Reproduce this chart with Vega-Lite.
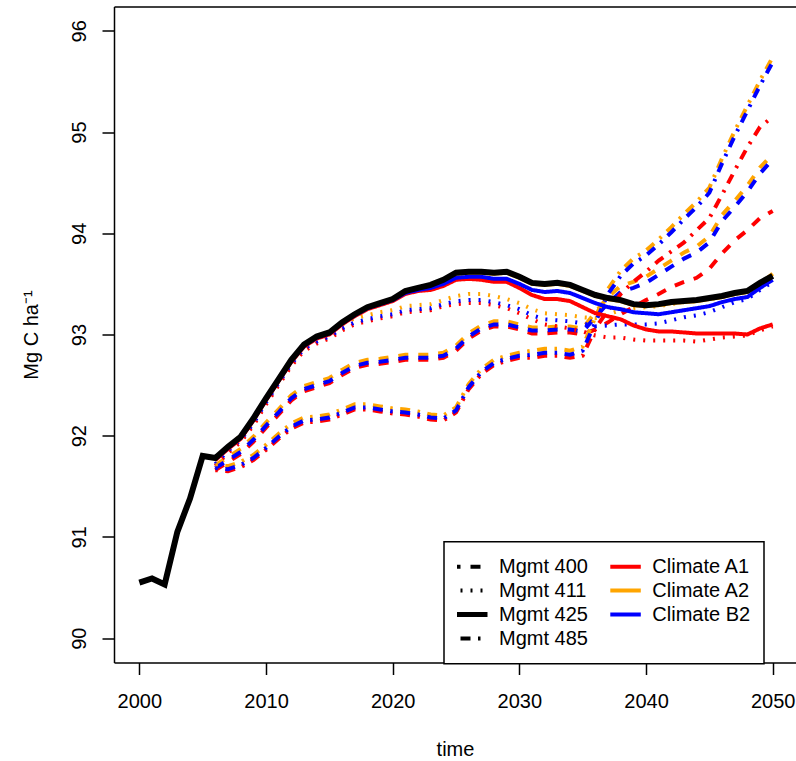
{
  "$schema": "https://vega.github.io/schema/vega-lite/v6.json",
  "width": 682,
  "height": 656,
  "autosize": {"type": "none"},
  "padding": {"left": 114, "top": 6.5, "right": 0, "bottom": 98.5},
  "background": "white",
  "config": {
    "view": {"stroke": null},
    "font": "Liberation Sans",
    "axis": {
      "grid": false,
      "labelFont": "Liberation Sans",
      "titleFont": "Liberation Sans",
      "labelFontSize": 20,
      "titleFontSize": 20,
      "labelColor": "black",
      "titleColor": "black",
      "titleFontWeight": "normal",
      "tickColor": "black",
      "domainColor": "black",
      "tickSize": 12,
      "tickWidth": 1.5,
      "domainWidth": 1.5
    },
    "legend": {"strokeWidth": 1.5}
  },
  "datasets": {
    "base": [
      {"t":2000,"v":90.55},{"t":2001,"v":90.59},{"t":2002,"v":90.53},{"t":2003,"v":91.05},{"t":2004,"v":91.38},
      {"t":2005,"v":91.80},{"t":2006,"v":91.78},{"t":2007,"v":91.89},{"t":2008,"v":91.99},{"t":2009,"v":92.17},
      {"t":2010,"v":92.37},{"t":2011,"v":92.56},{"t":2012,"v":92.75},{"t":2013,"v":92.90},{"t":2014,"v":92.98},
      {"t":2015,"v":93.02},{"t":2016,"v":93.12},{"t":2017,"v":93.20},{"t":2018,"v":93.27},{"t":2019,"v":93.31},
      {"t":2020,"v":93.35},{"t":2021,"v":93.43},{"t":2022,"v":93.46},{"t":2023,"v":93.49},{"t":2024,"v":93.54},
      {"t":2025,"v":93.61},{"t":2026,"v":93.62},{"t":2027,"v":93.62},{"t":2028,"v":93.61},{"t":2029,"v":93.62},
      {"t":2030,"v":93.57},{"t":2031,"v":93.51},{"t":2032,"v":93.50},{"t":2033,"v":93.51},{"t":2034,"v":93.49},
      {"t":2035,"v":93.44},{"t":2036,"v":93.39},{"t":2037,"v":93.36},{"t":2038,"v":93.34},{"t":2039,"v":93.30},
      {"t":2040,"v":93.29},{"t":2041,"v":93.30},{"t":2042,"v":93.32},{"t":2043,"v":93.33},{"t":2044,"v":93.34},
      {"t":2045,"v":93.36},{"t":2046,"v":93.38},{"t":2047,"v":93.41},{"t":2048,"v":93.43},{"t":2049,"v":93.51},
      {"t":2050,"v":93.58}
    ],
    "m400": [
      {"t":2006,"A1":91.66,"A2":91.71,"B2":91.68},{"t":2007,"A1":91.74,"A2":91.79,"B2":91.76},
      {"t":2008,"A1":91.82,"A2":91.87,"B2":91.84},{"t":2009,"A1":91.94,"A2":91.99,"B2":91.96},
      {"t":2010,"A1":92.08,"A2":92.13,"B2":92.10},{"t":2011,"A1":92.21,"A2":92.26,"B2":92.23},
      {"t":2012,"A1":92.35,"A2":92.40,"B2":92.37},{"t":2013,"A1":92.44,"A2":92.49,"B2":92.46},
      {"t":2014,"A1":92.48,"A2":92.53,"B2":92.50},{"t":2015,"A1":92.52,"A2":92.57,"B2":92.54},
      {"t":2016,"A1":92.60,"A2":92.65,"B2":92.62},{"t":2017,"A1":92.67,"A2":92.72,"B2":92.69},
      {"t":2018,"A1":92.70,"A2":92.75,"B2":92.72},{"t":2019,"A1":92.71,"A2":92.76,"B2":92.73},
      {"t":2020,"A1":92.73,"A2":92.78,"B2":92.75},{"t":2021,"A1":92.75,"A2":92.80,"B2":92.77},
      {"t":2022,"A1":92.75,"A2":92.80,"B2":92.77},{"t":2023,"A1":92.75,"A2":92.80,"B2":92.77},
      {"t":2024,"A1":92.77,"A2":92.82,"B2":92.79},{"t":2025,"A1":92.84,"A2":92.89,"B2":92.86},
      {"t":2026,"A1":92.96,"A2":93.01,"B2":92.98},{"t":2027,"A1":93.04,"A2":93.09,"B2":93.06},
      {"t":2028,"A1":93.08,"A2":93.13,"B2":93.10},{"t":2029,"A1":93.08,"A2":93.13,"B2":93.10},
      {"t":2030,"A1":93.05,"A2":93.10,"B2":93.07},{"t":2031,"A1":93.01,"A2":93.07,"B2":93.04},
      {"t":2032,"A1":93.01,"A2":93.07,"B2":93.04},{"t":2033,"A1":93.02,"A2":93.08,"B2":93.05},
      {"t":2034,"A1":93.02,"A2":93.08,"B2":93.05},{"t":2035,"A1":93.00,"A2":93.06,"B2":93.03},
      {"t":2036,"A1":93.05,"A2":93.22,"B2":93.17},{"t":2037,"A1":93.12,"A2":93.37,"B2":93.31},
      {"t":2038,"A1":93.20,"A2":93.48,"B2":93.42},{"t":2039,"A1":93.27,"A2":93.52,"B2":93.46},
      {"t":2040,"A1":93.34,"A2":93.57,"B2":93.51},{"t":2041,"A1":93.40,"A2":93.65,"B2":93.59},
      {"t":2042,"A1":93.47,"A2":93.73,"B2":93.67},{"t":2043,"A1":93.52,"A2":93.81,"B2":93.75},
      {"t":2044,"A1":93.56,"A2":93.87,"B2":93.81},{"t":2045,"A1":93.65,"A2":93.97,"B2":93.91},
      {"t":2046,"A1":93.80,"A2":94.18,"B2":94.12},{"t":2047,"A1":93.93,"A2":94.32,"B2":94.26},
      {"t":2048,"A1":94.03,"A2":94.47,"B2":94.41},{"t":2049,"A1":94.15,"A2":94.65,"B2":94.59},
      {"t":2050,"A1":94.22,"A2":94.78,"B2":94.73}
    ],
    "m411": [
      {"t":2006,"A1":91.70,"A2":91.76,"B2":91.72},{"t":2007,"A1":91.83,"A2":91.89,"B2":91.85},
      {"t":2008,"A1":91.94,"A2":92.00,"B2":91.96},{"t":2009,"A1":92.10,"A2":92.16,"B2":92.12},
      {"t":2010,"A1":92.31,"A2":92.37,"B2":92.33},{"t":2011,"A1":92.50,"A2":92.56,"B2":92.52},
      {"t":2012,"A1":92.69,"A2":92.75,"B2":92.71},{"t":2013,"A1":92.84,"A2":92.90,"B2":92.86},
      {"t":2014,"A1":92.91,"A2":92.97,"B2":92.93},{"t":2015,"A1":92.96,"A2":93.02,"B2":92.98},
      {"t":2016,"A1":93.04,"A2":93.10,"B2":93.06},{"t":2017,"A1":93.10,"A2":93.16,"B2":93.12},
      {"t":2018,"A1":93.13,"A2":93.19,"B2":93.15},{"t":2019,"A1":93.16,"A2":93.22,"B2":93.18},
      {"t":2020,"A1":93.18,"A2":93.24,"B2":93.20},{"t":2021,"A1":93.22,"A2":93.28,"B2":93.24},
      {"t":2022,"A1":93.23,"A2":93.29,"B2":93.25},{"t":2023,"A1":93.24,"A2":93.30,"B2":93.26},
      {"t":2024,"A1":93.28,"A2":93.34,"B2":93.30},{"t":2025,"A1":93.30,"A2":93.38,"B2":93.33},
      {"t":2026,"A1":93.31,"A2":93.40,"B2":93.34},{"t":2027,"A1":93.31,"A2":93.40,"B2":93.34},
      {"t":2028,"A1":93.29,"A2":93.38,"B2":93.32},{"t":2029,"A1":93.26,"A2":93.35,"B2":93.29},
      {"t":2030,"A1":93.21,"A2":93.31,"B2":93.25},{"t":2031,"A1":93.15,"A2":93.25,"B2":93.19},
      {"t":2032,"A1":93.10,"A2":93.21,"B2":93.15},{"t":2033,"A1":93.08,"A2":93.20,"B2":93.14},
      {"t":2034,"A1":93.06,"A2":93.19,"B2":93.13},{"t":2035,"A1":93.03,"A2":93.17,"B2":93.11},
      {"t":2036,"A1":92.99,"A2":93.16,"B2":93.08},{"t":2037,"A1":92.97,"A2":93.20,"B2":93.09},
      {"t":2038,"A1":92.97,"A2":93.24,"B2":93.10},{"t":2039,"A1":92.95,"A2":93.26,"B2":93.10},
      {"t":2040,"A1":92.94,"A2":93.27,"B2":93.10},{"t":2041,"A1":92.94,"A2":93.28,"B2":93.11},
      {"t":2042,"A1":92.94,"A2":93.30,"B2":93.14},{"t":2043,"A1":92.94,"A2":93.32,"B2":93.17},
      {"t":2044,"A1":92.93,"A2":93.33,"B2":93.19},{"t":2045,"A1":92.95,"A2":93.35,"B2":93.22},
      {"t":2046,"A1":92.97,"A2":93.37,"B2":93.27},{"t":2047,"A1":92.98,"A2":93.40,"B2":93.32},
      {"t":2048,"A1":92.99,"A2":93.42,"B2":93.35},{"t":2049,"A1":93.04,"A2":93.50,"B2":93.44},
      {"t":2050,"A1":93.08,"A2":93.57,"B2":93.52}
    ],
    "m485": [
      {"t":2006,"A1":91.66,"A2":91.71,"B2":91.68},{"t":2007,"A1":91.65,"A2":91.70,"B2":91.67},
      {"t":2008,"A1":91.69,"A2":91.74,"B2":91.71},{"t":2009,"A1":91.76,"A2":91.81,"B2":91.78},
      {"t":2010,"A1":91.86,"A2":91.91,"B2":91.88},{"t":2011,"A1":91.97,"A2":92.02,"B2":91.99},
      {"t":2012,"A1":92.07,"A2":92.12,"B2":92.09},{"t":2013,"A1":92.13,"A2":92.18,"B2":92.15},
      {"t":2014,"A1":92.14,"A2":92.19,"B2":92.16},{"t":2015,"A1":92.16,"A2":92.21,"B2":92.18},
      {"t":2016,"A1":92.21,"A2":92.26,"B2":92.23},{"t":2017,"A1":92.26,"A2":92.31,"B2":92.28},
      {"t":2018,"A1":92.26,"A2":92.31,"B2":92.28},{"t":2019,"A1":92.24,"A2":92.29,"B2":92.26},
      {"t":2020,"A1":92.22,"A2":92.27,"B2":92.24},{"t":2021,"A1":92.21,"A2":92.26,"B2":92.23},
      {"t":2022,"A1":92.19,"A2":92.24,"B2":92.21},{"t":2023,"A1":92.16,"A2":92.21,"B2":92.18},
      {"t":2024,"A1":92.15,"A2":92.20,"B2":92.17},{"t":2025,"A1":92.23,"A2":92.28,"B2":92.25},
      {"t":2026,"A1":92.46,"A2":92.51,"B2":92.48},{"t":2027,"A1":92.61,"A2":92.66,"B2":92.63},
      {"t":2028,"A1":92.70,"A2":92.75,"B2":92.72},{"t":2029,"A1":92.74,"A2":92.79,"B2":92.76},
      {"t":2030,"A1":92.77,"A2":92.82,"B2":92.79},{"t":2031,"A1":92.77,"A2":92.84,"B2":92.80},
      {"t":2032,"A1":92.79,"A2":92.86,"B2":92.82},{"t":2033,"A1":92.79,"A2":92.86,"B2":92.82},
      {"t":2034,"A1":92.77,"A2":92.84,"B2":92.80},{"t":2035,"A1":92.79,"A2":92.88,"B2":92.84},
      {"t":2036,"A1":93.06,"A2":93.17,"B2":93.12},{"t":2037,"A1":93.24,"A2":93.45,"B2":93.40},
      {"t":2038,"A1":93.40,"A2":93.63,"B2":93.58},{"t":2039,"A1":93.52,"A2":93.75,"B2":93.70},
      {"t":2040,"A1":93.62,"A2":93.83,"B2":93.78},{"t":2041,"A1":93.73,"A2":93.94,"B2":93.89},
      {"t":2042,"A1":93.82,"A2":94.06,"B2":94.01},{"t":2043,"A1":93.91,"A2":94.19,"B2":94.14},
      {"t":2044,"A1":94.03,"A2":94.31,"B2":94.26},{"t":2045,"A1":94.15,"A2":94.45,"B2":94.40},
      {"t":2046,"A1":94.38,"A2":94.74,"B2":94.69},{"t":2047,"A1":94.62,"A2":95.01,"B2":94.96},
      {"t":2048,"A1":94.85,"A2":95.26,"B2":95.21},{"t":2049,"A1":95.05,"A2":95.51,"B2":95.46},
      {"t":2050,"A1":95.15,"A2":95.74,"B2":95.69}
    ],
    "m425": [
      {"t":2006,"A1":91.76,"A2":91.78,"B2":91.77},{"t":2007,"A1":91.87,"A2":91.89,"B2":91.88},
      {"t":2008,"A1":91.97,"A2":91.99,"B2":91.98},{"t":2009,"A1":92.15,"A2":92.17,"B2":92.16},
      {"t":2010,"A1":92.35,"A2":92.37,"B2":92.36},{"t":2011,"A1":92.54,"A2":92.56,"B2":92.55},
      {"t":2012,"A1":92.73,"A2":92.75,"B2":92.74},{"t":2013,"A1":92.88,"A2":92.90,"B2":92.89},
      {"t":2014,"A1":92.96,"A2":92.98,"B2":92.97},{"t":2015,"A1":93.00,"A2":93.02,"B2":93.01},
      {"t":2016,"A1":93.10,"A2":93.12,"B2":93.11},{"t":2017,"A1":93.18,"A2":93.20,"B2":93.19},
      {"t":2018,"A1":93.25,"A2":93.27,"B2":93.26},{"t":2019,"A1":93.29,"A2":93.31,"B2":93.30},
      {"t":2020,"A1":93.33,"A2":93.35,"B2":93.34},{"t":2021,"A1":93.40,"A2":93.42,"B2":93.41},
      {"t":2022,"A1":93.43,"A2":93.45,"B2":93.44},{"t":2023,"A1":93.44,"A2":93.48,"B2":93.46},
      {"t":2024,"A1":93.48,"A2":93.53,"B2":93.50},{"t":2025,"A1":93.54,"A2":93.60,"B2":93.56},
      {"t":2026,"A1":93.55,"A2":93.61,"B2":93.57},{"t":2027,"A1":93.54,"A2":93.61,"B2":93.57},
      {"t":2028,"A1":93.52,"A2":93.60,"B2":93.55},{"t":2029,"A1":93.52,"A2":93.61,"B2":93.55},
      {"t":2030,"A1":93.46,"A2":93.56,"B2":93.50},{"t":2031,"A1":93.39,"A2":93.50,"B2":93.44},
      {"t":2032,"A1":93.35,"A2":93.49,"B2":93.42},{"t":2033,"A1":93.35,"A2":93.50,"B2":93.43},
      {"t":2034,"A1":93.33,"A2":93.48,"B2":93.41},{"t":2035,"A1":93.27,"A2":93.43,"B2":93.36},
      {"t":2036,"A1":93.21,"A2":93.38,"B2":93.31},{"t":2037,"A1":93.18,"A2":93.35,"B2":93.27},
      {"t":2038,"A1":93.15,"A2":93.33,"B2":93.25},{"t":2039,"A1":93.09,"A2":93.29,"B2":93.22},
      {"t":2040,"A1":93.05,"A2":93.28,"B2":93.21},{"t":2041,"A1":93.03,"A2":93.29,"B2":93.20},
      {"t":2042,"A1":93.03,"A2":93.31,"B2":93.22},{"t":2043,"A1":93.02,"A2":93.32,"B2":93.24},
      {"t":2044,"A1":93.01,"A2":93.33,"B2":93.26},{"t":2045,"A1":93.01,"A2":93.35,"B2":93.28},
      {"t":2046,"A1":93.01,"A2":93.37,"B2":93.32},{"t":2047,"A1":93.01,"A2":93.40,"B2":93.35},
      {"t":2048,"A1":93.00,"A2":93.42,"B2":93.37},{"t":2049,"A1":93.06,"A2":93.50,"B2":93.46},
      {"t":2050,"A1":93.10,"A2":93.60,"B2":93.54}
    ]
  },
  "resolve": {"axis": {"x": "independent", "y": "independent"}},
  "layer": [
    {
      "data": {"name": "m400"},
      "transform": [{"fold": ["A1", "A2", "B2"], "as": ["climate", "v"]}],
      "mark": {"type": "line", "strokeWidth": 4, "clip": true},
      "encoding": {
        "x": {"field": "t", "type": "quantitative", "scale": {"domain": [1998, 2051.84], "nice": false, "zero": false},
              "axis": {"orient": "top", "labels": false, "ticks": false, "title": null, "domain": true}},
        "y": {"field": "v", "type": "quantitative", "scale": {"domain": [89.76, 96.24], "nice": false, "zero": false},
              "axis": {"orient": "left", "values": [90, 91, 92, 93, 94, 95, 96], "format": "d",
                       "labelAngle": -90, "labelAlign": "center", "labelBaseline": "alphabetic", "labelPadding": 17,
                       "title": "Mg C ha⁻¹", "titleX": -83, "titleY": 328, "titleAngle": -90,
                       "titleAlign": "center", "titleBaseline": "middle"}},
        "color": {"field": "climate", "type": "nominal", "scale": {"domain": ["A1", "A2", "B2"], "range": ["#FF0000", "#FFA500", "#0000FF"]}, "legend": null},
        "strokeDash": {
          "datum": "Mgmt 400", "type": "nominal",
          "scale": {
            "domain": ["Mgmt 400", "Mgmt 411", "Mgmt 425", "Mgmt 485", "Climate A1", "Climate A2", "Climate B2"],
            "range": [[10, 10], [2, 8], [1, 0], [2.5, 7.5, 10, 7.5], [1, 0], [1, 0], [1, 0]]
          },
          "legend": {
            "title": null,
            "orient": "none",
            "legendX": 330,
            "legendY": 535.2,
            "columns": 2,
            "columnPadding": 22.3,
            "rowPadding": 0,
            "padding": 13,
            "strokeColor": "black",
            "fillColor": "white",
            "symbolType": "stroke",
            "symbolSize": 1369,
            "symbolStrokeWidth": 4,
            "symbolStrokeColor": "black",
            "symbolOffset": 2,
            "clipHeight": 23.7,
            "labelFont": "Liberation Sans",
            "labelFontSize": 20,
            "labelColor": "black",
            "labelOffset": 20,
            "labelLimit": 300,
            "encode": {
              "symbols": {
                "update": {
                  "stroke": {"signal": "datum.value == 'Climate A1' ? '#FF0000' : datum.value == 'Climate A2' ? '#FFA500' : datum.value == 'Climate B2' ? '#0000FF' : '#000000'"},
                  "strokeWidth": {"signal": "datum.value == 'Mgmt 425' ? 5 : 4"}
                }
              }
            }
          }
        }
      }
    },
    {
      "data": {"name": "m411"},
      "transform": [{"fold": ["A1", "A2", "B2"], "as": ["climate", "v"]}],
      "mark": {"type": "line", "strokeWidth": 4, "clip": true},
      "encoding": {
        "x": {"field": "t", "type": "quantitative", "axis": null},
        "y": {"field": "v", "type": "quantitative", "axis": null},
        "color": {"field": "climate", "type": "nominal", "legend": null},
        "strokeDash": {"datum": "Mgmt 411", "type": "nominal"}
      }
    },
    {
      "data": {"name": "m485"},
      "transform": [{"fold": ["A1", "A2", "B2"], "as": ["climate", "v"]}],
      "mark": {"type": "line", "strokeWidth": 4, "clip": true},
      "encoding": {
        "x": {"field": "t", "type": "quantitative", "axis": null},
        "y": {"field": "v", "type": "quantitative", "axis": null},
        "color": {"field": "climate", "type": "nominal", "legend": null},
        "strokeDash": {"datum": "Mgmt 485", "type": "nominal"}
      }
    },
    {
      "data": {"name": "m425"},
      "transform": [{"fold": ["A1", "A2", "B2"], "as": ["climate", "v"]}],
      "mark": {"type": "line", "strokeWidth": 4, "clip": true},
      "encoding": {
        "x": {"field": "t", "type": "quantitative", "axis": null},
        "y": {"field": "v", "type": "quantitative", "axis": null},
        "color": {"field": "climate", "type": "nominal", "legend": null},
        "strokeDash": {"datum": "Mgmt 425", "type": "nominal"}
      }
    },
    {
      "data": {"name": "base"},
      "mark": {"type": "line", "strokeWidth": 6, "color": "black", "clip": true},
      "encoding": {
        "x": {"field": "t", "type": "quantitative",
              "axis": {"orient": "bottom", "values": [2000, 2010, 2020, 2030, 2040, 2050], "format": "d",
                       "labelPadding": 17, "title": "time", "titleY": 76.5, "titleBaseline": "top", "titleAlign": "center"}},
        "y": {"field": "v", "type": "quantitative", "axis": null}
      }
    }
  ]
}
